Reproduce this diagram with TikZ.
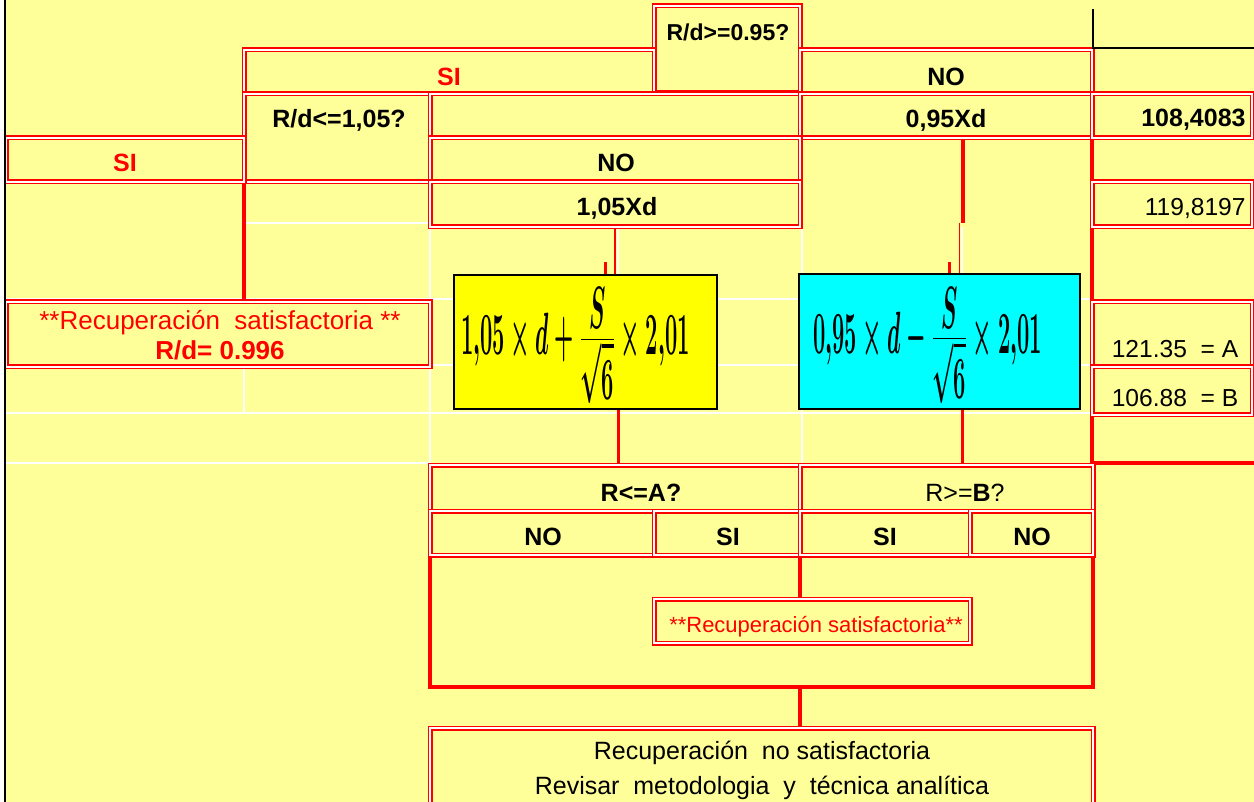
\documentclass[tikz,border=0pt]{standalone}
\usepackage[no-math]{fontspec}
\setmainfont{Liberation Sans}
\usepackage{graphicx}
\usetikzlibrary{fit,calc}

\definecolor{hoja}{RGB}{255,255,153}
\definecolor{rojo}{RGB}{255,0,0}
\definecolor{amarillo}{RGB}{255,255,0}
\definecolor{celeste}{RGB}{0,255,255}

\pgfdeclarelayer{fondo}
\pgfsetlayers{fondo,main}

% formula estrecha, con fraccion a tamano completo
\newcommand{\ecuacion}[1]{\scalebox{0.44}[1.2]{\Huge\boldmath$\textstyle #1$}}
\newcommand{\fracS}{{\displaystyle S\over\displaystyle\sqrt{6}}}

\tikzset{
  celda/.style={draw=rojo, double=white, line width=0.85pt, double distance=0.8pt,
    fill=hoja, inner sep=0pt, outer sep=0pt},
  caja/.style={draw=black, line width=0.6pt, inner sep=0pt, outer sep=0pt},
  enlace/.style={draw=rojo, line width=1.7pt},
  fino/.style={draw=rojo, line width=0.6pt},
  rejilla/.style={draw=white, line width=0.8pt},
  negro/.style={draw=black, line width=0.8pt},
  neg/.style={font=\fontsize{12.5}{15}\selectfont\bfseries, inner sep=0pt},
  txt/.style={font=\fontsize{12.3}{15}\selectfont, inner sep=0pt},
}

\begin{document}
\begin{tikzpicture}[x=0.5pt, y=-0.5pt]
    \useasboundingbox (0,0) rectangle (1254,802);
    \clip (0,0) rectangle (1254,802);

    % hoja y rejilla
    \begin{pgfonlayer}{fondo}
        \fill[white] (0,0) rectangle (1254,802);
        \fill[hoja] (5,0) rectangle (1254,802);
        \draw[rejilla] (244,223) -- (430,223);
        \foreach \y in {299,365,413}
            \draw[rejilla] (5,\y) -- (1092,\y);
        \draw[rejilla] (5,463) -- (430,463);
        \draw[rejilla] (430,223) -- (430,463);
        \draw[rejilla] (244,367) -- (244,413);
        \foreach \x in {618,802,962}
            \draw[rejilla] (\x,227) -- (\x,463);
    \end{pgfonlayer}

    % celdas de la parte superior
    \node[celda, fit={(654,6) (800,93)}] (q1) {};
    \node[celda, fit={(244,50) (654,94)}] (siA) {};
    \node[celda, fit={(800,50) (1092,94)}] (noA) {};
    \node[celda, fit={(244,94) (430,182)}] (q2) {};
    \node[celda, fit={(430,94) (800,138)}] (vacia) {};
    \node[celda, fit={(800,94) (1092,138)}] (c095) {};
    \node[celda, fit={(1092,94) (1252,138)}] (v108) {};
    \node[celda, fit={(6,138) (244,182)}] (siB) {};
    \node[celda, fit={(430,138) (800,182)}] (noB) {};
    \node[celda, fit={(430,182) (800,227)}] (c105) {};
    \node[celda, fit={(1092,182) (1252,227)}] (v119) {};
    \node[celda, fit={(6,302) (430,367)}] (recA) {};
    \node[celda, fit={(1092,302) (1252,367)}] (valA) {};
    \node[celda, fit={(1092,367) (1252,415)}] (valB) {};

    % limites
    \node[caja, fill=amarillo, fit={(454,275) (717,409)}] (fsup) {};
    \node[caja, fill=celeste, fit={(799,274) (1080,409)}] (finf) {};

    % comparaciones
    \node[celda, fit={(430,465) (800,511)}] (qa) {};
    \node[celda, fit={(800,465) (1093,511)}] (qb) {};
    \node[celda, fit={(430,511) (654,555)}] (noC) {};
    \node[celda, fit={(654,511) (800,555)}] (siC) {};
    \node[celda, fit={(800,511) (970,555)}] (siD) {};
    \node[celda, fit={(970,511) (1093,555)}] (noD) {};
    \node[celda, fit={(654,599) (970,643)}] (recB) {};
    \node[celda, fit={(430,728) (1093,830)}] (fallo) {};

    % textos
    \node[neg, font=\fontsize{11.5}{14}\selectfont\bfseries] (tq1) at (728,32) {R/d>=0.95?};
    \node[neg, text=rojo] (tsiA) at (449,77) {SI};
    \node[neg] (tnoA) at (946,77) {NO};
    \node[neg] (tq2) at (339,120) {R/d<=1,05?};
    \node[neg] (t095) at (946,120) {0,95Xd};
    \node[neg, anchor=east] (t108) at (1246,120) {108,4083};
    \node[neg, text=rojo] (tsiB) at (125,163) {SI};
    \node[neg] (tnoB) at (616,163) {NO};
    \node[neg] (t105) at (617,208) {1,05Xd};
    \node[txt, anchor=east] (t119) at (1246,208) {119,8197};
    \node[txt, text=rojo, align=center, font=\fontsize{13}{15}\selectfont] (trec) at (220,335)
        {**Recuperación\ \ satisfactoria **\\\textbf{R/d= 0.996}};
    \node[inner sep=0pt] (tsup) at ($(fsup.center)+(-10,4)$)
        {\ecuacion{1{,}05\times d+\fracS\times 2{,}01}};
    \node[inner sep=0pt] (tinf) at ($(finf.center)+(-12,4)$)
        {\ecuacion{0{,}95\times d-\fracS\times 2{,}01}};
    \node[txt] (tA) at (1175,349) {121.35\ \ = A};
    \node[txt] (tB) at (1175,398) {106.88\ \ = B};
    \node[neg] (tqa) at (641,493) {R<=A?};
    \node[txt, font=\fontsize{12.5}{15}\selectfont] (tqb) at (965,493) {R>=\textbf{B}?};
    \node[neg] (tnoC) at (543,537) {NO};
    \node[neg] (tsiC) at (728,537) {SI};
    \node[neg] (tsiD) at (885,537) {SI};
    \node[neg] (tnoD) at (1032,537) {NO};
    \node[txt, text=rojo, font=\fontsize{11}{13}\selectfont] (tok) at (816,627)
        {**Recuperación satisfactoria**};
    \node[txt, align=center, font=\fontsize{12.5}{17.5}\selectfont] (tfallo) at (762,770)
        {Recuperación\ \ no satisfactoria\\Revisar\ \ metodologia\ \ y\ \ técnica analítica};

    % conectores
    \coordinate (borde) at (1254,463);
    \begin{pgfonlayer}{fondo}
        \draw[enlace] (siB.south east) -- (siB.south east |- recA.north);
        \draw[fino] (c105.south) -- (c105.south |- fsup.north);
        \draw[enlace] ($(fsup.north)+(20,-13)$) -- ($(fsup.north)+(20,0)$);
        \draw[enlace] ($(c095.south)+(17,0)$) -- ++(0,85);
        \draw[fino] ($(finf.north)+(20,0)$) -- ++(0,-51);
        \draw[enlace] ($(finf.north)+(10,0)$) -- ++(0,-12);
        \draw[enlace] ($(fsup.south)+(33,0)$) coordinate (b1) -- (b1 |- qa.north);
        \draw[enlace] ($(finf.south)+(23,0)$) coordinate (b2) -- (b2 |- qb.north);
        \draw[enlace] (v108.south west) |- (borde);
        \draw[enlace] (noC.south west) -- ++(0,132) coordinate (esq) -| (noD.south east);
        \draw[enlace] (siC.south east) -- (siC.south east |- recB.north);
        \draw[enlace] (esq -| siC.south east) -- (siC.south east |- fallo.north);
    \end{pgfonlayer}

    % bordes de la hoja
    \draw[negro, line width=1.2pt] (5,0) -- (5,802);
    \draw[negro] (1093,9) -- (1093,48) -- (1254,48);
\end{tikzpicture}
\end{document}
